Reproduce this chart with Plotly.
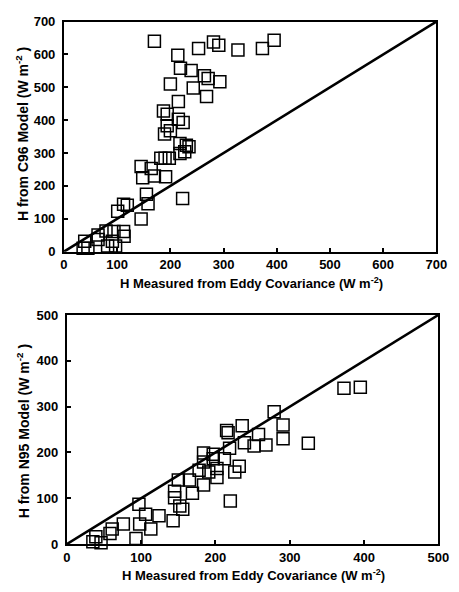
import plotly.graph_objects as go

# ---- Data ----
c96_measured = [170, 214, 253, 281, 291, 327, 373, 395, 219, 239, 264, 271, 293, 200, 243, 268,
                215, 187, 194, 215, 224, 194, 200, 189, 218, 230, 235, 218, 227, 182, 190, 198,
                145, 164, 148, 170, 191, 155, 223, 158, 112, 119, 101, 145, 112, 113, 94, 79,
                64, 64, 39, 36, 45, 82, 97, 91]
c96_model = [640, 598, 618, 638, 628, 614, 618, 643, 558, 551, 535, 527, 517, 510, 498, 472,
             457, 428, 418, 403, 393, 383, 368, 358, 329, 324, 319, 299, 304, 284, 284, 284,
             259, 253, 225, 230, 228, 175, 162, 146, 144, 141, 123, 99, 61, 47, 61, 63,
             51, 37, 32, 10, 10, 17, 17, 32]

n95_measured = [373, 395, 279, 236, 291, 291, 325, 215, 217, 258, 239, 252, 268, 219, 184, 197,
                212, 197, 184, 202, 178, 191, 226, 232, 202, 184, 165, 150, 145, 169, 145, 152,
                156, 220, 97, 106, 124, 98, 113, 143, 76, 61, 58, 39, 35, 46, 93]
n95_model = [340, 342, 289, 258, 260, 230, 220, 248, 243, 239, 221, 214, 216, 209, 199, 196,
             186, 186, 179, 165, 161, 157, 157, 170, 145, 129, 140, 140, 115, 111, 101, 83,
             76, 94, 87, 65, 62, 44, 33, 51, 44, 33, 23, 16, 5, 3, 12]

c96_line = [0, 700]
n95_line = [0, 500]
c96_ticks = [0, 100, 200, 300, 400, 500, 600, 700]
n95_ticks = [0, 100, 200, 300, 400, 500]

W, H = 459, 592
FONT = "Liberation Sans"

def px_x(p):
    return p / W

def px_y(p):
    return 1 - p / H

fig = go.Figure()

marker = dict(symbol="square-open", size=12, color="black", line=dict(width=1.5, color="black"))

fig.add_trace(go.Scatter(x=c96_line, y=c96_line, mode="lines",
                         line=dict(color="black", width=2.6), xaxis="x", yaxis="y",
                         showlegend=False, hoverinfo="skip"))
fig.add_trace(go.Scatter(x=c96_measured, y=c96_model, mode="markers", marker=marker,
                         xaxis="x", yaxis="y", showlegend=False, cliponaxis=False))
fig.add_trace(go.Scatter(x=n95_line, y=n95_line, mode="lines",
                         line=dict(color="black", width=2.6), xaxis="x2", yaxis="y2",
                         showlegend=False, hoverinfo="skip"))
fig.add_trace(go.Scatter(x=n95_measured, y=n95_model, mode="markers", marker=marker,
                         xaxis="x2", yaxis="y2", showlegend=False, cliponaxis=False))

tickfont = dict(family=FONT, size=13, color="black", weight="bold")

def axis(rng, ticks, domain, anchor, standoff):
    return dict(range=rng, tickvals=ticks, domain=domain, anchor=anchor,
                showgrid=False, zeroline=False, showline=True, linecolor="black",
                linewidth=2, mirror=True, ticks="inside", ticklen=4, tickwidth=1.5,
                tickcolor="black", tickfont=tickfont, ticklabelstandoff=standoff)

fig.update_layout(
    width=W, height=H,
    margin=dict(l=0, r=0, t=0, b=0),
    paper_bgcolor="white", plot_bgcolor="white",
    xaxis=axis([0, 700], c96_ticks, [px_x(62), px_x(447)], "y", 0),
    yaxis=axis([0, 700], c96_ticks, [px_y(251), px_y(15)], "x", 4),
    xaxis2=axis([0, 500], n95_ticks, [px_x(65), px_x(449)], "y2", 0),
    yaxis2=axis([0, 500], n95_ticks, [px_y(551), px_y(316)], "x2", 4),
)

title_font = dict(family=FONT, size=13, color="black", weight="bold")
ytitle_font = dict(family=FONT, size=14, color="black", weight="bold")

annotations = [
    dict(text="H Measured from Eddy Covariance (W m<sup>-2</sup>)", x=px_x(256), y=px_y(283),
         xref="paper", yref="paper", showarrow=False, font=title_font, xanchor="center", yanchor="middle"),
    dict(text="H Measured from Eddy Covariance (W m<sup>-2</sup>)", x=px_x(258), y=px_y(583),
         xref="paper", yref="paper", showarrow=False, font=title_font, xanchor="center", yanchor="middle"),
    dict(text="H from C96 Model (W m<sup>-2</sup> )", x=px_x(18), y=px_y(130), textangle=-90,
         xref="paper", yref="paper", showarrow=False, font=ytitle_font, xanchor="center", yanchor="middle"),
    dict(text="H from N95 Model (W m<sup>-2</sup> )", x=px_x(20), y=px_y(435), textangle=-90,
         xref="paper", yref="paper", showarrow=False, font=ytitle_font, xanchor="center", yanchor="middle"),
]
fig.update_layout(annotations=annotations)

fig.write_html("out.html")
